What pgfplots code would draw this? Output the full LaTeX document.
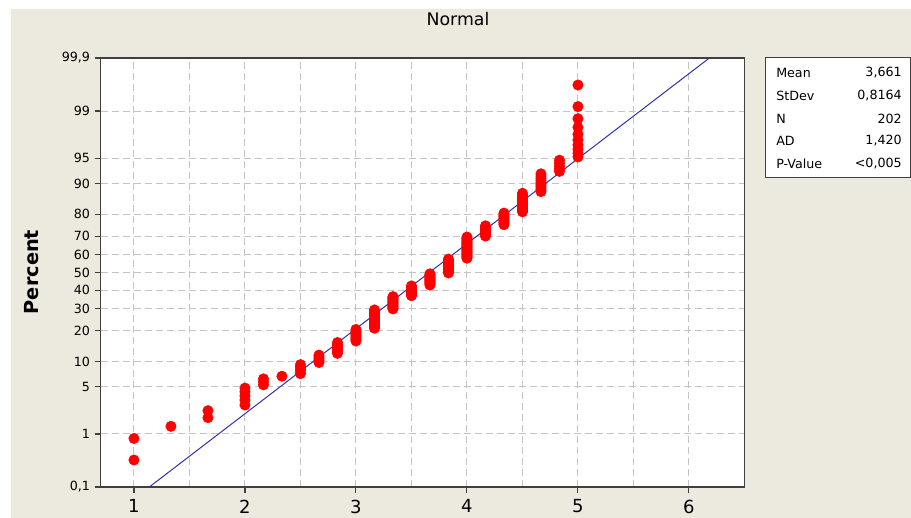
\documentclass[border=0pt]{standalone}
\usepackage{pgfplots}
\pgfplotsset{compat=1.18}
\usepackage{pgfplotstable}
\usepackage{fontspec}
\setmainfont{DejaVu Sans}
\definecolor{bgbeige}{RGB}{236,233,223}
\definecolor{axisgray}{RGB}{64,64,64}
\definecolor{gridgray}{RGB}{196,196,196}
\definecolor{fitblue}{RGB}{50,50,170}

% x = observed value, z = normal score of the plotted percent (median ranks)
\pgfplotstableread{
x z
1 -2.701
1 -2.391
1.3333 -2.216
1.6667 -2.091
1.6667 -1.991
2 -1.909
2 -1.837
2 -1.774
2 -1.717
2 -1.665
2.1667 -1.618
2.1667 -1.574
2.1667 -1.532
2.3333 -1.494
2.5 -1.457
2.5 -1.422
2.5 -1.389
2.5 -1.357
2.5 -1.327
2.6667 -1.297
2.6667 -1.269
2.6667 -1.242
2.6667 -1.215
2.6667 -1.190
2.8333 -1.165
2.8333 -1.141
2.8333 -1.118
2.8333 -1.095
2.8333 -1.072
2.8333 -1.051
2.8333 -1.029
2.8333 -1.009
3 -0.988
3 -0.968
3 -0.949
3 -0.929
3 -0.910
3 -0.892
3 -0.874
3 -0.856
3 -0.838
3 -0.820
3.1667 -0.803
3.1667 -0.786
3.1667 -0.769
3.1667 -0.753
3.1667 -0.736
3.1667 -0.720
3.1667 -0.704
3.1667 -0.689
3.1667 -0.673
3.1667 -0.658
3.1667 -0.642
3.1667 -0.627
3.1667 -0.612
3.1667 -0.597
3.1667 -0.582
3.1667 -0.568
3.1667 -0.553
3.1667 -0.539
3.3333 -0.525
3.3333 -0.511
3.3333 -0.497
3.3333 -0.483
3.3333 -0.469
3.3333 -0.455
3.3333 -0.441
3.3333 -0.428
3.3333 -0.414
3.3333 -0.401
3.3333 -0.387
3.3333 -0.374
3.3333 -0.361
3.3333 -0.348
3.5 -0.334
3.5 -0.321
3.5 -0.308
3.5 -0.295
3.5 -0.282
3.5 -0.270
3.5 -0.257
3.5 -0.244
3.5 -0.231
3.5 -0.218
3.5 -0.206
3.5 -0.193
3.6667 -0.181
3.6667 -0.168
3.6667 -0.156
3.6667 -0.143
3.6667 -0.130
3.6667 -0.118
3.6667 -0.106
3.6667 -0.093
3.6667 -0.081
3.6667 -0.068
3.6667 -0.056
3.6667 -0.043
3.6667 -0.031
3.6667 -0.019
3.8333 -0.006
3.8333 0.006
3.8333 0.019
3.8333 0.031
3.8333 0.043
3.8333 0.056
3.8333 0.068
3.8333 0.081
3.8333 0.093
3.8333 0.106
3.8333 0.118
3.8333 0.130
3.8333 0.143
3.8333 0.156
3.8333 0.168
3.8333 0.181
3.8333 0.193
4 0.206
4 0.218
4 0.231
4 0.244
4 0.257
4 0.270
4 0.282
4 0.295
4 0.308
4 0.321
4 0.334
4 0.348
4 0.361
4 0.374
4 0.387
4 0.401
4 0.414
4 0.428
4 0.441
4 0.455
4 0.469
4 0.483
4 0.497
4 0.511
4.1667 0.525
4.1667 0.539
4.1667 0.553
4.1667 0.568
4.1667 0.582
4.1667 0.597
4.1667 0.612
4.1667 0.627
4.1667 0.642
4.1667 0.658
4.1667 0.673
4.3333 0.689
4.3333 0.704
4.3333 0.720
4.3333 0.736
4.3333 0.753
4.3333 0.769
4.3333 0.786
4.3333 0.803
4.3333 0.820
4.3333 0.838
4.3333 0.856
4.5 0.874
4.5 0.892
4.5 0.910
4.5 0.929
4.5 0.949
4.5 0.968
4.5 0.988
4.5 1.009
4.5 1.029
4.5 1.051
4.5 1.072
4.5 1.095
4.5 1.118
4.5 1.141
4.6667 1.165
4.6667 1.190
4.6667 1.215
4.6667 1.242
4.6667 1.269
4.6667 1.297
4.6667 1.327
4.6667 1.357
4.6667 1.389
4.6667 1.422
4.8333 1.457
4.8333 1.494
4.8333 1.532
4.8333 1.574
4.8333 1.618
5 1.665
5 1.717
5 1.774
5 1.837
5 1.909
5 1.991
5 2.091
5 2.216
5 2.391
5 2.701
}\datatable

\begin{document}
\begin{tikzpicture}
\path[use as bounding box] (0pt,0pt) rectangle (683.25pt,-388.5pt);
\fill[bgbeige] (8.25pt,-6.75pt) rectangle (683.25pt,-388.5pt);

\begin{axis}[
  at={(75.5pt,-365.25pt)}, anchor=south west,
  scale only axis, width=482.85pt, height=321.75pt,
  xmin=0.7, xmax=6.5, ymin=-3.0902, ymax=3.0902,
  axis background/.style={fill=white},
  axis line style={axisgray, line width=1.2pt},
  tick pos=left, tick align=outside,
  major tick length=4.5pt, minor tick length=0pt,
  tick style={axisgray, line width=0.8pt},
  xtick={1,2,3,4,5,6},
  xticklabels={1,2,3,4,5,6},
  minor xtick={1.5,2.5,3.5,4.5,5.5},
  ytick={-3.0902,-2.3263,-1.6449,-1.2816,-0.8416,-0.5244,-0.2533,0,0.2533,0.5244,0.8416,1.2816,1.6449,2.3263,3.0902},
  yticklabels={{0,1},1,5,10,20,30,40,50,60,70,80,90,95,99,{99,9}},
  grid=both,
  major grid style={gridgray, line width=0.75pt, dash pattern=on 5.25pt off 3pt},
  minor grid style={gridgray, line width=0.75pt, dash pattern=on 5.25pt off 3pt},
  xticklabel style={font=\fontsize{13.5}{16}\selectfont, yshift=-1.5pt},
  yticklabel style={font=\fontsize{9.5}{11}\selectfont},
  clip=true,
]
\addplot[fitblue, line width=0.75pt] coordinates {(1.1382,-3.0902) (6.1838,3.0902)};
\addplot[only marks, mark=*, mark size=3.9pt, color=red, fill=red] table[x=x, y=z] {\datatable};
\end{axis}

\node[font=\fontsize{13}{15}\selectfont] at (343.5pt,-14.25pt) {Normal};
\node[font=\fontsize{14.5}{17}\selectfont\bfseries, rotate=90] at (24pt,-204pt) {Percent};

\draw[axisgray, line width=0.75pt, fill=white] (573.75pt,-42.75pt) rectangle (682.5pt,-132.75pt);
\begin{scope}[every node/.style={font=\fontsize{9.5}{11}\selectfont, inner sep=0pt}]
\node[anchor=west] at (582pt,-54.75pt) {Mean};
\node[anchor=west] at (582pt,-72pt) {StDev};
\node[anchor=west] at (582pt,-89.25pt) {N};
\node[anchor=west] at (582pt,-105.75pt) {AD};
\node[anchor=west] at (582pt,-123pt) {P-Value};
\node[anchor=east] at (676.5pt,-54.75pt) {3,661};
\node[anchor=east] at (676.5pt,-72pt) {0,8164};
\node[anchor=east] at (676.5pt,-89.25pt) {202};
\node[anchor=east] at (676.5pt,-105.75pt) {1,420};
\node[anchor=east] at (676.5pt,-123pt) {<0,005};
\end{scope}
\end{tikzpicture}
\end{document}
